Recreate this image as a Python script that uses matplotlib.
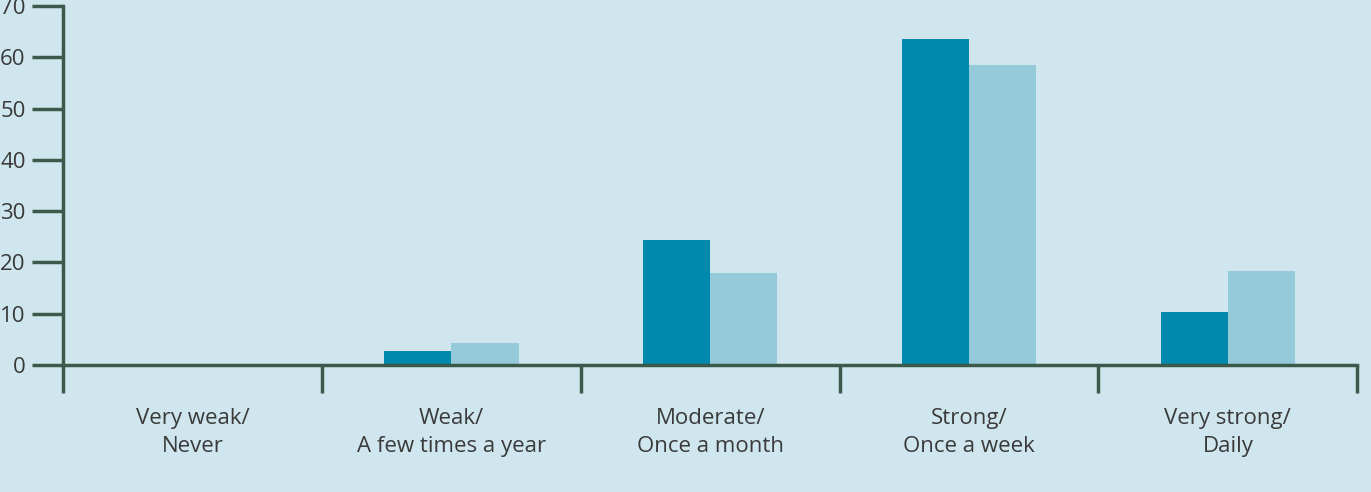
import numpy as np
import matplotlib
matplotlib.use("Agg")
import matplotlib.pyplot as plt

categories = ["Very weak/\nNever", "Weak/\nA few times a year", "Moderate/\nOnce a month",
              "Strong/\nOnce a week", "Very strong/\nDaily"]
series_a = [0.0, 2.7, 24.4, 63.5, 10.3]
series_b = [0.0, 4.3, 17.9, 58.5, 18.3]
y_ticks = [0, 10, 20, 30, 40, 50, 60, 70]

BG = "#cfe6ee"
DARK = "#0088ad"
LIGHT = "#95cadb"
AXIS = "#3b5a4b"
TEXT = "#3a3a3a"

plt.rcParams["font.family"] = ["Open Sans", "DejaVu Sans"]

fig = plt.figure(figsize=(13.71, 4.92), dpi=100, facecolor=BG)
ax = fig.add_axes([0.046, 0.258, 0.944, 0.730])
ax.set_facecolor(BG)

x = np.arange(len(categories)) + 0.5
w = 0.26
ax.bar(x - w / 2, series_a, width=w, color=DARK, zorder=2)
ax.bar(x + w / 2, series_b, width=w, color=LIGHT, zorder=2)

ax.set_xlim(0, len(categories))
ax.set_ylim(0, 70)
ax.set_yticks(y_ticks)
ax.set_xticks(np.arange(len(categories) + 1))
ax.set_xticklabels([])
ax.set_xticks(x, minor=True)
ax.set_xticklabels(categories, minor=True, fontsize=16, color=TEXT, linespacing=1.4)
ax.tick_params(axis="x", which="minor", length=0, pad=31)
ax.tick_params(axis="x", which="major", direction="out", length=20, width=2.5, color=AXIS)
ax.tick_params(axis="y", direction="out", length=22, width=2.5, color=AXIS,
               labelsize=16, labelcolor=TEXT, pad=5)

for s in ("top", "right"):
    ax.spines[s].set_visible(False)
for s in ("left", "bottom"):
    ax.spines[s].set_color(AXIS)
    ax.spines[s].set_linewidth(2.5)
    ax.spines[s].set_zorder(3)

fig.savefig("out.png", dpi=100, facecolor=BG)
